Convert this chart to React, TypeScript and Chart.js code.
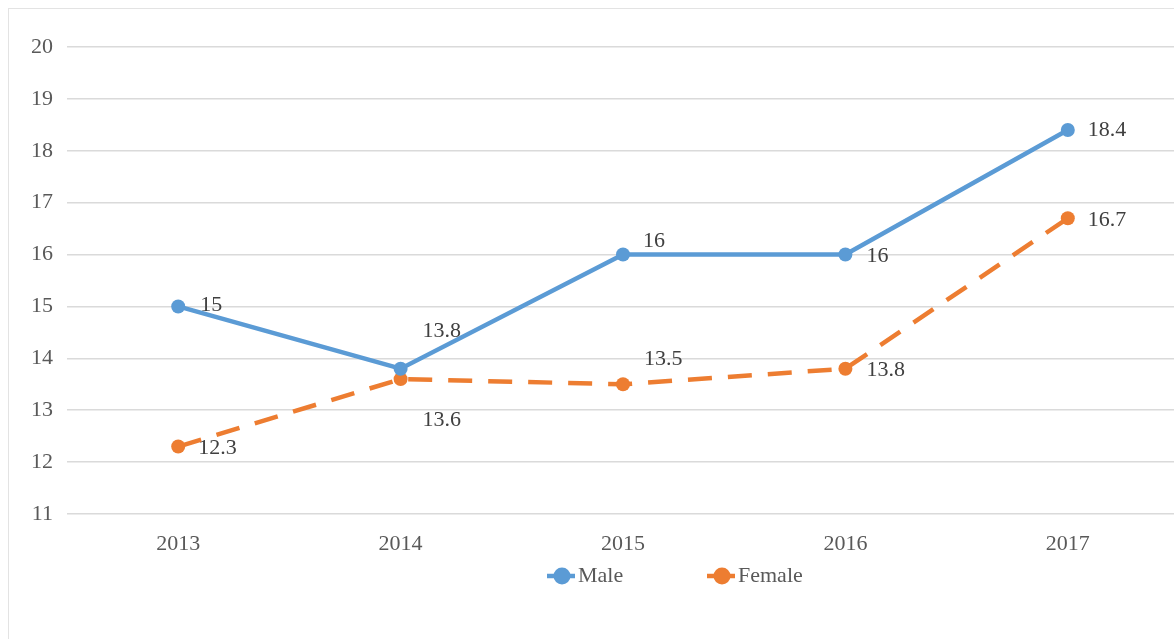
import React, { useEffect, useRef } from "react";
import { Chart, registerables } from "chart.js";

Chart.register(...registerables);

const years = ["2013", "2014", "2015", "2016", "2017"];
const maleValues = [15, 13.8, 16, 16, 18.4];
const femaleValues = [12.3, 13.6, 13.5, 13.8, 16.7];
const yMin = 11;
const yMax = 20;

// label offsets (dx, dy) relative to the point
const maleLabelOffsets = [
  [22, -1],
  [22, -37],
  [20, -13],
  [21, 2],
  [20, 0],
];
const femaleLabelOffsets = [
  [20, 2],
  [22, 41],
  [21, -25],
  [21, 2],
  [20, 2],
];

const BLUE = "#5B9BD5";
const ORANGE = "#ED7D31";
const FONT = "'Liberation Serif', 'Times New Roman', serif";
const CANVAS_W = 1177;
const CANVAS_H = 630;

const labelPlugin = {
  id: "pointLabels",
  afterDatasetsDraw(chart: any) {
    const ctx = chart.ctx;
    ctx.save();
    ctx.font = `22px ${FONT}`;
    ctx.fillStyle = "#404040";
    ctx.textAlign = "left";
    ctx.textBaseline = "middle";
    const offsets = [maleLabelOffsets, femaleLabelOffsets];
    chart.data.datasets.forEach((ds: any, di: number) => {
      const meta = chart.getDatasetMeta(di);
      meta.data.forEach((pt: any, i: number) => {
        const [dx, dy] = offsets[di][i];
        ctx.fillText(String(ds.data[i]), pt.x + dx, pt.y + dy);
      });
    });
    ctx.restore();
  },
};

const legendPlugin = {
  id: "customLegend",
  afterDraw(chart: any) {
    const ctx = chart.ctx;
    const area = chart.chartArea;
    ctx.save();
    ctx.font = `22px ${FONT}`;
    ctx.textBaseline = "middle";
    ctx.textAlign = "left";
    const y = area.bottom + 62;
    let x = area.left + 495;
    chart.data.datasets.forEach((ds: any) => {
      ctx.strokeStyle = ds.borderColor;
      ctx.lineWidth = 4.5;
      ctx.setLineDash([]);
      ctx.beginPath();
      ctx.moveTo(x - 15, y);
      ctx.lineTo(x + 13, y);
      ctx.stroke();
      ctx.fillStyle = ds.borderColor;
      ctx.beginPath();
      ctx.arc(x, y, 8.5, 0, Math.PI * 2);
      ctx.fill();
      ctx.fillStyle = "#595959";
      ctx.fillText(ds.label, x + 16, y);
      x += 160;
    });
    ctx.restore();
  },
};

export default function App() {
  const ref = useRef<HTMLCanvasElement>(null);
  useEffect(() => {
    const chart = new Chart(ref.current!, {
      type: "line",
      data: {
        labels: years,
        datasets: [
          {
            label: "Male",
            data: maleValues,
            borderColor: BLUE,
            backgroundColor: BLUE,
            borderWidth: 4.5,
            pointRadius: 7,
            pointBorderWidth: 0,
            pointBackgroundColor: BLUE,
            tension: 0,
          },
          {
            label: "Female",
            data: femaleValues,
            borderColor: ORANGE,
            backgroundColor: ORANGE,
            borderWidth: 4.5,
            borderDash: [24, 16],
            pointRadius: 7,
            pointBorderWidth: 0,
            pointBackgroundColor: ORANGE,
            tension: 0,
          },
        ],
      },
      options: {
        animation: false,
        responsive: false,
        maintainAspectRatio: false,
        layout: { padding: { top: 38, left: 0, right: 1, bottom: 85 } },
        plugins: {
          legend: { display: false },
          tooltip: { enabled: false },
        },
        scales: {
          x: {
            offset: true,
            grid: { display: false, drawTicks: false },
            border: { display: false },
            ticks: {
              color: "#595959",
              font: { family: FONT, size: 22 },
              padding: 17,
            },
            afterFit: (s: any) => {
              s.height = 40;
            },
          },
          y: {
            min: yMin,
            max: yMax,
            ticks: {
              stepSize: 1,
              color: "#595959",
              font: { family: FONT, size: 22 },
              padding: 14,
            },
            grid: { color: "#dadada", lineWidth: 1.5, drawTicks: false },
            border: { display: false },
            afterFit: (s: any) => {
              s.width = 58;
            },
          },
        },
      },
      plugins: [labelPlugin, legendPlugin],
    });
    return () => chart.destroy();
  }, []);
  return (
    <div
      style={{
        position: "fixed",
        left: 8,
        top: 8,
        border: "1px solid #e3e3e3",
        borderRight: "none",
        borderBottom: "none",
        width: CANVAS_W,
        height: CANVAS_H,
        overflow: "hidden",
      }}
    >
      <canvas
        ref={ref}
        width={CANVAS_W}
        height={CANVAS_H}
        style={{ display: "block", width: CANVAS_W, height: CANVAS_H }}
      />
    </div>
  );
}
